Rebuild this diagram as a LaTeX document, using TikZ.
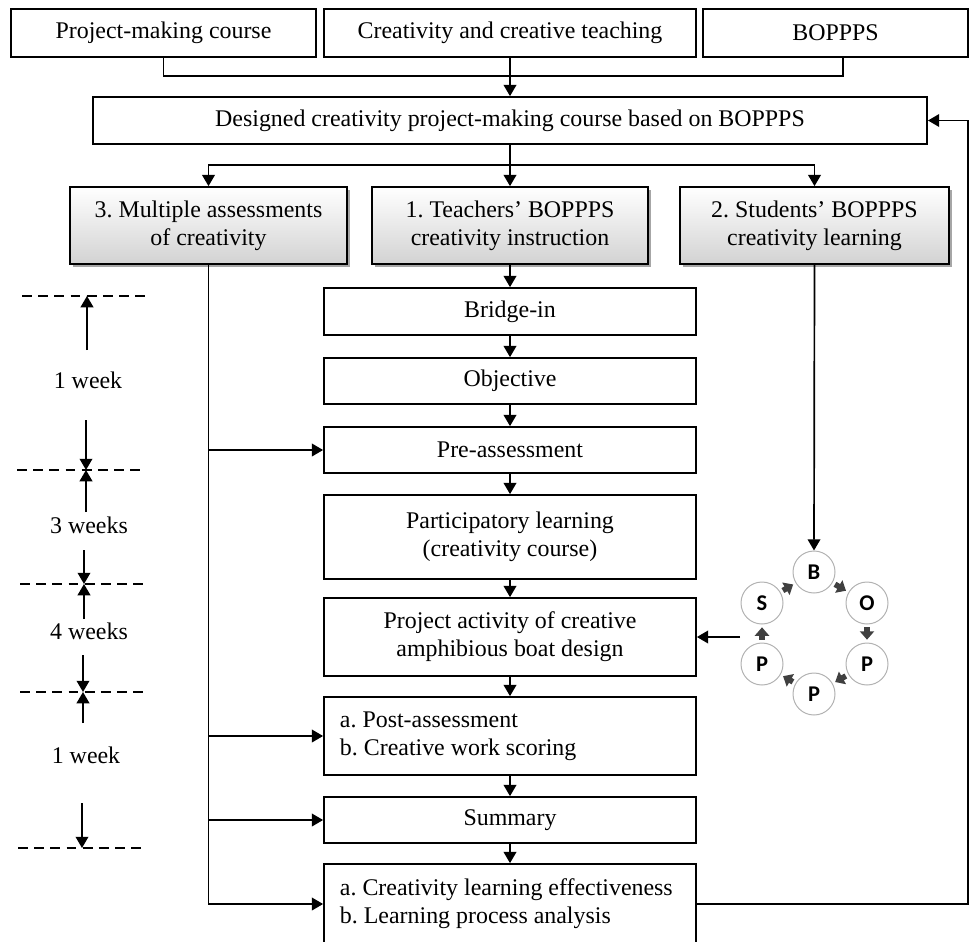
\documentclass[tikz,border=0pt]{standalone}
\usepackage{fontspec}
\setmainfont{Liberation Serif}
\newfontfamily\cycfont{Carlito}
\usetikzlibrary{arrows.meta,shadows}
\frenchspacing

\tikzset{
  box/.style={draw, rectangle, line width=1.2pt, inner sep=0pt, align=center,
    font=\fontsize{17}{20}\selectfont},
  listbox/.style={box, text width=8.5cm, align=flush left},
  topic/.style={box, top color=white, bottom color=gray!35,
    drop shadow={shadow xshift=2pt, shadow yshift=-2pt, fill=gray!70, opacity=1}},
  stage/.style={circle, draw=gray!60, line width=0.7pt, fill=white, inner sep=0pt,
    minimum size=1.05cm, font=\cycfont\bfseries\fontsize{16}{16}\selectfont},
  line/.style={line width=1.2pt},
  arr/.style={line, ->},
  cycarr/.style={-{Triangle[width=10pt,length=6pt]}, line width=4pt, draw=black!75,
    shorten <=2pt, shorten >=2pt},
  dashline/.style={line width=1.2pt, dash pattern=on 7pt off 4.5pt},
  week/.style={font=\fontsize{17}{20}\selectfont},
}

\begin{document}
\begin{tikzpicture}[x=0.025cm, y=-0.025cm, >={Triangle[width=9pt,length=8pt]}]
\useasboundingbox (0,0) rectangle (972,941);
\clip (0,0) rectangle (972,941);

% sources
\node [box, minimum width=7.625cm, minimum height=1.2cm] (pmc) at (163.5,33) {Project-making course};
\node [box, minimum width=9.3cm,   minimum height=1.2cm] (cct) at (510,33)   {Creativity and creative teaching};
\node [box, minimum width=6.625cm, minimum height=1.2cm] (bop) at (835.5,33) {BOPPPS};

\node [box, minimum width=20.85cm, minimum height=1.175cm] (des) at (510,120.5)
  {Designed creativity project-making course based on BOPPPS};

% three strands
\node [topic, minimum width=6.925cm, minimum height=1.925cm] (mas) at (208.5,225.5)
  {3. Multiple assessments\\of creativity};
\node [topic, minimum width=6.9cm, minimum height=1.925cm] (tbc) at (510,225.5)
  {1. Teachers' BOPPPS\\creativity instruction};
\node [topic, minimum width=6.725cm, minimum height=1.925cm] (sbc) at (814.5,225.5)
  {2. Students' BOPPPS\\creativity learning};

% BOPPPS steps
\node [box, minimum width=9.3cm, minimum height=1.175cm] (bri) at (510,311.5) {Bridge-in};
\node [box, minimum width=9.3cm, minimum height=1.15cm]  (obj) at (510,381)   {Objective};
\node [box, minimum width=9.3cm, minimum height=1.15cm]  (pre) at (510,450)   {Pre-assessment};
\node [box, minimum width=9.3cm, minimum height=2.1cm]   (par) at (510,537)
  {Participatory learning\\(creativity course)};
\node [box, minimum width=9.3cm, minimum height=1.95cm]  (prj) at (510,637)
  {Project activity of creative\\amphibious boat design};
\node [listbox, minimum width=9.3cm, minimum height=1.95cm] (pst) at (510,736)
  {a. Post-assessment\\b. Creative work scoring};
\node [box, minimum width=9.3cm, minimum height=1.15cm]  (sum) at (510,820)   {Summary};
\node [listbox, minimum width=9.3cm, minimum height=2.0cm] (fin) at (510,904)
  {a. Creativity learning effectiveness\\b. Learning process analysis};

% learning cycle
\node [stage] (B)  at (814,572) {B};
\node [stage] (O)  at (867,603) {O};
\node [stage] (P1) at (867,664) {P};
\node [stage] (P2) at (814,694) {P};
\node [stage] (P3) at (762,664) {P};
\node [stage] (S)  at (762,603) {S};

\draw [cycarr] (B)  -- (O);
\draw [cycarr] (O)  -- (P1);
\draw [cycarr] (P1) -- (P2);
\draw [cycarr] (P2) -- (P3);
\draw [cycarr] (P3) -- (S);
\draw [cycarr] (S)  -- (B);

% time line
\node [week] (w1) at (88,380) {1 week};
\node [week] (w2) at (89,525) {3 weeks};
\node [week] (w3) at (89,631) {4 weeks};
\node [week] (w4) at (86,755) {1 week};

\coordinate (t1) at (87,296);
\coordinate (t2) at (86,470);
\coordinate (t3) at (84,584);
\coordinate (t4) at (83,692);
\coordinate (t5) at (82,848);

\draw [dashline] (22,296) -- (148,296);
\draw [dashline] (17,470) -- (145,470);
\draw [dashline] (20,584) -- (148,584);
\draw [dashline] (20,692) -- (148,692);
\draw [dashline] (18,848) -- (146,848);

\draw [arr] (87,350) -- (t1);
\draw [arr] (86,420) -- (t2);
\draw [arr] (86,512) -- (t2);
\draw [arr] (84,550) -- (t3);
\draw [arr] (84,619) -- (t3);
\draw [arr] (83,655) -- (t4);
\draw [arr] (83,723) -- (t4);
\draw [arr] (82,803) -- (t5);

% connectors
\coordinate (jt) at (510,76);
\coordinate (jb) at (510,165);
\coordinate (cyc) at (740,637);
\coordinate (fbk) at (968,120.5);

\draw [line] (pmc.south) |- (jt) -| ([xshift=0.19cm]bop.south);
\draw [arr]  (cct.south) -- (des.north);

\draw [line] (des.south) -- (jb);
\draw [arr]  (jb) -| (mas.north);
\draw [arr]  (jb) -- (tbc.north);
\draw [arr]  (jb) -| (sbc.north);

\draw [arr] (tbc.south) -- (bri.north);
\draw [arr] (bri.south) -- (obj.north);
\draw [arr] (obj.south) -- (pre.north);
\draw [arr] (pre.south) -- (par.north);
\draw [arr] (par.south) -- (prj.north);
\draw [arr] (prj.south) -- (pst.north);
\draw [arr] (pst.south) -- (sum.north);
\draw [arr] (sum.south) -- (fin.north);

\draw [arr] (mas.south) |- (fin.west);
\draw [arr] (mas.south |- pre.west) -- (pre.west);
\draw [arr] (mas.south |- pst.west) -- (pst.west);
\draw [arr] (mas.south |- sum.west) -- (sum.west);

\draw [arr] (sbc.south) -- (B.north);
\draw [arr] (cyc) -- (prj.east);

\draw [arr] (fin.east) -| (fbk) -- (des.east);

\end{tikzpicture}
\end{document}
